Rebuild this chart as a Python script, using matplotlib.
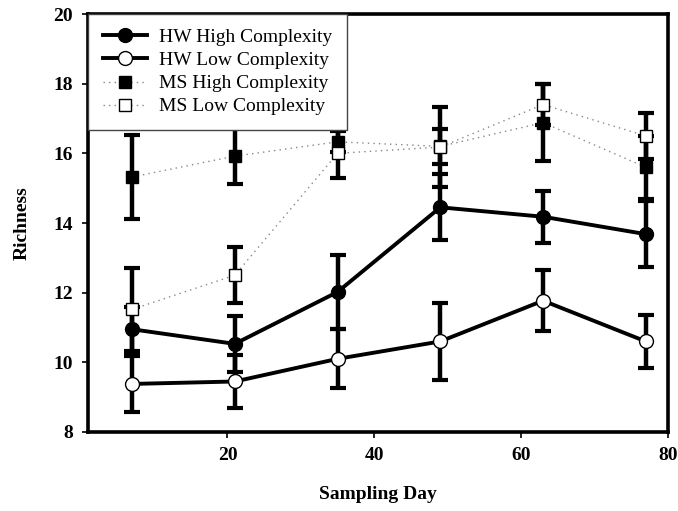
import matplotlib
matplotlib.use("Agg")
import matplotlib.pyplot as plt

# Sampling days and richness (mean, error) for each treatment
days = [7, 21, 35, 49, 63, 77]

hw_high = [10.95, 10.53, 12.02, 14.45, 14.18, 13.68]
hw_high_err = [0.65, 0.8, 1.06, 0.95, 0.75, 0.95]

hw_low = [9.38, 9.45, 10.1, 10.6, 11.77, 10.6]
hw_low_err = [0.8, 0.75, 0.85, 1.1, 0.88, 0.77]

ms_high = [15.32, 15.92, 16.33, 16.2, 16.88, 15.6]
ms_high_err = [1.2, 0.8, 0.3, 0.5, 1.1, 0.9]

ms_low = [11.52, 12.5, 16.0, 16.18, 17.4, 16.5]
ms_low_err = [1.2, 0.8, 0.7, 1.15, 0.6, 0.66]

labels = ["HW High Complexity", "HW Low Complexity",
          "MS High Complexity", "MS Low Complexity"]

plt.rcParams['font.family'] = ['Liberation Serif', 'DejaVu Serif']

fig = plt.figure(figsize=(6.78, 5.11), dpi=100)
ax = fig.add_axes([0.1298, 0.1546, 0.8552, 0.818])

err_kw = dict(ecolor='black', elinewidth=3.2, capsize=5.5, capthick=3, zorder=2)

ax.errorbar(days, ms_high, yerr=ms_high_err, fmt='none', **err_kw)
ax.errorbar(days, ms_low, yerr=ms_low_err, fmt='none', **err_kw)
ax.errorbar(days, hw_high, yerr=hw_high_err, fmt='none', **err_kw)
ax.errorbar(days, hw_low, yerr=hw_low_err, fmt='none', **err_kw)

# MS series: thin dotted grey lines
l3, = ax.plot(days, ms_high, linestyle=(0, (1, 3)), color='#888888', linewidth=1.0,
              marker='s', markersize=8.5, markerfacecolor='black',
              markeredgecolor='black', zorder=3)
l4, = ax.plot(days, ms_low, linestyle=(0, (1, 3)), color='#888888', linewidth=1.0,
              marker='s', markersize=8.5, markerfacecolor='white',
              markeredgecolor='black', markeredgewidth=1.0, zorder=4)
# HW series: thick solid black lines
l1, = ax.plot(days, hw_high, linestyle='-', color='black', linewidth=2.8,
              marker='o', markersize=10, markerfacecolor='black',
              markeredgecolor='black', zorder=5)
l2, = ax.plot(days, hw_low, linestyle='-', color='black', linewidth=2.8,
              marker='o', markersize=10, markerfacecolor='white',
              markeredgecolor='black', markeredgewidth=1.0, zorder=5)

ax.set_xlim(1, 80)
ax.set_ylim(8, 20)
ax.set_xticks([20, 40, 60, 80])
ax.set_yticks([8, 10, 12, 14, 16, 18, 20])

for s in ax.spines.values():
    s.set_linewidth(2.6)

ax.tick_params(axis='both', direction='out', length=4, width=1.2,
               labelsize=14, pad=7)
for t in ax.get_xticklabels() + ax.get_yticklabels():
    t.set_fontweight('bold')

ax.set_xlabel("Sampling Day", fontsize=14, fontweight='bold', labelpad=16)
ax.set_ylabel("Richness", fontsize=14, fontweight='bold', labelpad=16)

leg = ax.legend([l1, l2, l3, l4], labels, loc='upper left', fontsize=14,
                frameon=True, fancybox=False, borderaxespad=0.0,
                handlelength=2.3, handletextpad=0.6, labelspacing=0.28,
                borderpad=0.75)
leg.get_frame().set_edgecolor('#444444')
leg.get_frame().set_linewidth(1.0)
leg.get_frame().set_alpha(1)
leg.set_zorder(10)

fig.savefig("out.png", dpi=100)
